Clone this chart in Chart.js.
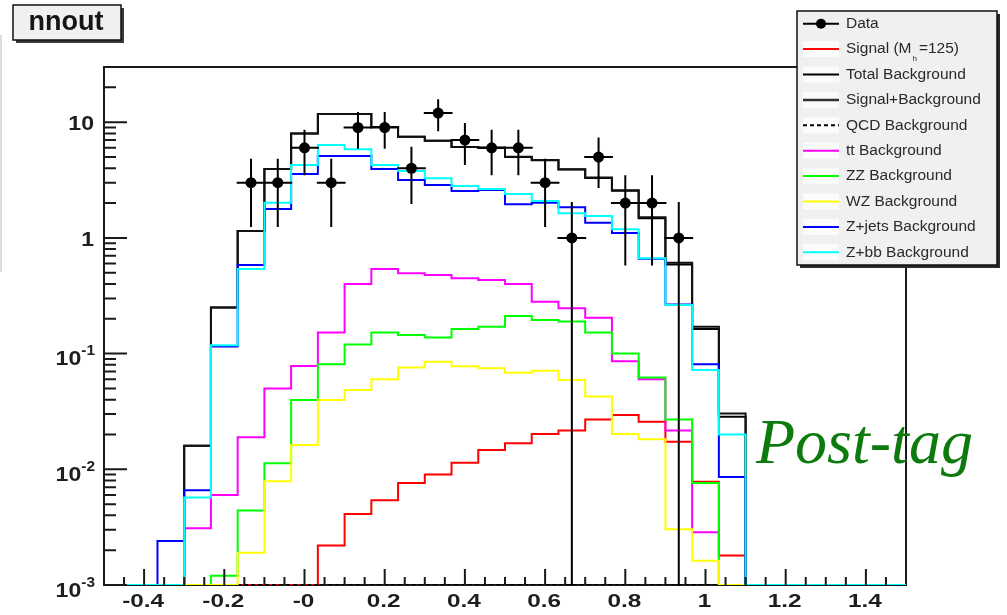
<!DOCTYPE html>
<html>
<head>
<meta charset="utf-8">
<title>nnout</title>
<script src="https://cdn.jsdelivr.net/npm/chart.js@4.4.1/dist/chart.umd.min.js"></script>
<style>
  html, body { margin: 0; padding: 0; background: #ffffff; }
  #wrap { width: 1007px; height: 615px; position: relative; }
</style>
</head>
<body>
<div id="wrap"><canvas id="nnoutChart" width="1007" height="615"></canvas></div>
<script>
// histogram binning: 30 bins on [-0.5, 1.5]
const nBins = 30;
const xLow = -0.5;
const xHigh = 1.5;
const yMin = 0.001;
const yMax = 30;

// per-bin contents, bin 0 .. 29
const signalH125 = [0, 0, 0, 0, 0, 0, 0, 0, 0.0022, 0.0041, 0.0054, 0.0076, 0.009, 0.0114, 0.0147, 0.0168, 0.0202, 0.0216, 0.027, 0.0294, 0.0258, 0.0173, 0.0078, 0.0018, 0, 0, 0, 0, 0, 0];
const totalBkg = [0, 0, 0, 0.016, 0.25, 1.15, 3.95, 8.0, 11.8, 11.8, 9.1, 7.5, 6.9, 6.1, 6.0, 5.0, 4.7, 3.9, 3.3, 2.55, 1.48, 0.59, 0.163, 0.0285, 0, 0, 0, 0, 0, 0];
const sigPlusBkg = [0, 0, 0, 0.016, 0.25, 1.15, 3.95, 8.0, 11.8, 11.8, 9.1, 7.5, 6.91, 6.11, 6.01, 5.02, 4.72, 3.92, 3.33, 2.58, 1.51, 0.61, 0.171, 0.0303, 0, 0, 0, 0, 0, 0];
const qcdBkg = [0, 0, 0, 0, 0, 0, 0, 0, 0, 0, 0, 0, 0, 0, 0, 0, 0, 0, 0, 0, 0, 0, 0, 0, 0, 0, 0, 0, 0, 0];
const ttBkg = [0, 0, 0, 0.0031, 0.006, 0.0189, 0.05, 0.078, 0.152, 0.4, 0.538, 0.494, 0.478, 0.448, 0.433, 0.4, 0.281, 0.246, 0.204, 0.086, 0.06, 0.0216, 0.00285, 0, 0, 0, 0, 0, 0, 0];
const zzBkg = [0, 0, 0, 0, 0.0012, 0.0044, 0.0113, 0.0397, 0.081, 0.12, 0.152, 0.145, 0.138, 0.163, 0.171, 0.211, 0.195, 0.189, 0.152, 0.1, 0.062, 0.027, 0.0076, 0, 0, 0, 0, 0, 0, 0];
const wzBkg = [0, 0, 0, 0, 0, 0.0019, 0.0079, 0.0162, 0.0397, 0.0484, 0.06, 0.076, 0.085, 0.0778, 0.0746, 0.0684, 0.0711, 0.0591, 0.0425, 0.0202, 0.0182, 0.00303, 0.00162, 0, 0, 0, 0, 0, 0, 0];
const zjetsBkg = [0, 0, 0.0024, 0.0066, 0.115, 0.583, 1.78, 3.57, 5.1, 5.1, 3.94, 3.16, 2.87, 2.54, 2.6, 1.95, 2.01, 1.84, 1.35, 1.1, 0.66, 0.266, 0.081, 0.0086, 0, 0, 0, 0, 0, 0];
const zbbBkg = [0, 0, 0, 0.0057, 0.118, 0.538, 2.01, 4.27, 6.35, 5.83, 4.27, 3.79, 3.27, 2.81, 2.65, 2.39, 2.08, 1.63, 1.55, 1.19, 0.667, 0.263, 0.072, 0.02, 0, 0, 0, 0, 0, 0];

// observed events and their errors (empty bins are not drawn)
const dataCounts = [0, 0, 0, 0, 0, 3, 3, 6, 3, 9, 9, 4, 12, 7, 6, 6, 3, 1, 5, 2, 2, 1, 0, 0, 0, 0, 0, 0, 0, 0];
const dataErrors = [0, 0, 0, 0, 0, 1.73, 1.73, 2.45, 1.73, 3, 3, 2, 3.46, 2.65, 2.45, 2.45, 1.73, 1, 2.24, 1.41, 1.41, 1, 0, 0, 0, 0, 0, 0, 0, 0];

// axis labels
const xTickValues = [-0.4, -0.2, 0, 0.2, 0.4, 0.6, 0.8, 1.0, 1.2, 1.4];
const xTickLabels = ['-0.4', '-0.2', '-0', '0.2', '0.4', '0.6', '0.8', '1', '1.2', '1.4'];
const yTickValues = [0.001, 0.01, 0.1, 1, 10];
const yTickBases = ['10', '10', '10', '1', '10'];
const yTickExps = ['-3', '-2', '-1', '', ''];

const binWidth = (xHigh - xLow) / nBins;
const FONT = '"Liberation Sans", Arial, sans-serif';

// step outline: one point per left bin edge, plus the right edge of the last bin
function histPoints(values) {
    const pts = [];
    for (let i = 0; i < values.length; i++) {
        pts.push({ x: xLow + i * binWidth, y: Math.max(values[i], yMin) });
    }
    pts.push({ x: xHigh, y: Math.max(values[values.length - 1], yMin) });
    return pts;
}

function dataPoints() {
    const pts = [];
    for (let i = 0; i < dataCounts.length; i++) {
        if (dataCounts[i] > 0) {
            pts.push({ x: xLow + (i + 0.5) * binWidth, y: dataCounts[i] });
        }
    }
    return pts;
}

function histDataset(label, values, color, order, dash) {
    return {
        label,
        data: histPoints(values),
        borderColor: color,
        borderWidth: 2,
        borderDash: dash || [],
        stepped: 'before',   // horizontal across the bin, then vertical at the next edge
        pointRadius: 0,
        fill: false,
        order
    };
}

// text stretched horizontally around its anchor
function wideText(ctx, text, x, y, sx) {
    ctx.save();
    ctx.translate(x, y);
    ctx.scale(sx, 1);
    ctx.fillText(text, 0, 0);
    ctx.restore();
}

// ROOT-like frame, ticks, labels, legend and captions
const decorPlugin = {
    id: 'decor',
    beforeDatasetsDraw(chart) {
        const { ctx, chartArea: a } = chart;
        ctx.save();
        ctx.strokeStyle = '#1a1a1a';
        ctx.lineWidth = 2;
        ctx.beginPath();
        ctx.moveTo(a.left, a.top);
        ctx.lineTo(a.right, a.top);
        ctx.lineTo(a.right, a.bottom);
        ctx.lineTo(a.left, a.bottom);
        ctx.closePath();
        ctx.stroke();
        ctx.restore();
    },
    afterDatasetsDraw(chart) {
        const { ctx, chartArea: a, scales } = chart;
        const xs = scales.x;
        const ys = scales.y;
        ctx.save();

        // data error bars
        ctx.strokeStyle = '#000';
        ctx.lineWidth = 2;
        ctx.lineCap = 'square';
        for (let i = 0; i < dataCounts.length; i++) {
            const n = dataCounts[i];
            if (n <= 0) continue;
            const xc = xs.getPixelForValue(xLow + (i + 0.5) * binWidth);
            const yc = ys.getPixelForValue(n);
            const yHi = ys.getPixelForValue(n + dataErrors[i]);
            const yLo = ys.getPixelForValue(Math.max(n - dataErrors[i], yMin));
            ctx.beginPath();
            ctx.moveTo(xs.getPixelForValue(xLow + i * binWidth), yc);
            ctx.lineTo(xs.getPixelForValue(xLow + (i + 1) * binWidth), yc);
            ctx.moveTo(xc, yHi);
            ctx.lineTo(xc, yLo);
            ctx.stroke();
        }

        // ticks pointing into the frame
        ctx.lineCap = 'butt';
        ctx.strokeStyle = '#1a1a1a';
        ctx.lineWidth = 2;
        ctx.beginPath();
        for (let k = -10; k <= 30; k++) {
            const v = Math.round(k * 5) / 100;
            if (v <= xLow || v >= xHigh) continue;
            const px = xs.getPixelForValue(v);
            const major = Math.abs(Math.round(v * 5) - v * 5) < 1e-6;
            ctx.moveTo(px, a.bottom);
            ctx.lineTo(px, a.bottom - (major ? 16 : 8));
        }
        for (let e = -3; e <= 1; e++) {
            for (let m = 1; m <= 9; m++) {
                const v = m * Math.pow(10, e);
                if (v <= yMin * 0.999 || v > yMax) continue;
                const py = ys.getPixelForValue(v);
                ctx.moveTo(a.left, py);
                ctx.lineTo(a.left + (m === 1 ? 23 : 12), py);
            }
        }
        ctx.stroke();

        // x tick labels
        ctx.fillStyle = '#1e1e1e';
        ctx.textAlign = 'center';
        ctx.textBaseline = 'middle';
        ctx.font = 'bold 19px ' + FONT;
        for (let i = 0; i < xTickValues.length; i++) {
            wideText(ctx, xTickLabels[i], xs.getPixelForValue(xTickValues[i]) - 1, 602, 1.28);
        }

        // y tick labels with exponents
        ctx.textAlign = 'right';
        for (let i = 0; i < yTickValues.length; i++) {
            const py = ys.getPixelForValue(yTickValues[i]);
            if (yTickExps[i]) {
                ctx.font = 'bold 14px ' + FONT;
                const ew = ctx.measureText(yTickExps[i]).width * 1.1;
                wideText(ctx, yTickExps[i], 95, py - 2, 1.1);
                ctx.font = 'bold 21px ' + FONT;
                wideText(ctx, yTickBases[i], 95 - ew, py + 6, 1.1);
            } else {
                ctx.font = 'bold 21px ' + FONT;
                wideText(ctx, yTickBases[i], 94, py + 2, 1.1);
            }
        }
        ctx.restore();
    },
    afterDraw(chart) {
        const { ctx } = chart;
        ctx.save();

        // faint panel edge on the far left
        ctx.strokeStyle = '#dcdcdc';
        ctx.lineWidth = 2;
        ctx.beginPath();
        ctx.moveTo(1, 35);
        ctx.lineTo(1, 272);
        ctx.stroke();

        // title box
        ctx.fillStyle = '#3a3a3a';
        ctx.fillRect(16, 8, 108, 35);
        ctx.fillStyle = '#f0f0f0';
        ctx.fillRect(13, 5, 108, 35);
        ctx.strokeStyle = '#111';
        ctx.lineWidth = 1.5;
        ctx.strokeRect(13, 5, 108, 35);
        ctx.fillStyle = '#151515';
        ctx.font = 'bold 27px ' + FONT;
        ctx.textAlign = 'center';
        ctx.textBaseline = 'middle';
        ctx.fillText('nnout', 66, 23);

        // legend box
        const lx = 797, ly = 11, lw = 200, lh = 254;
        ctx.fillStyle = '#2a2a2a';
        ctx.fillRect(lx + 3, ly + 3, lw, lh);
        ctx.fillStyle = '#f0f0f0';
        ctx.fillRect(lx, ly, lw, lh);
        ctx.strokeStyle = '#111';
        ctx.lineWidth = 1.5;
        ctx.strokeRect(lx, ly, lw, lh);

        const rowH = lh / legendEntries.length;
        ctx.textAlign = 'left';
        ctx.textBaseline = 'middle';
        legendEntries.forEach((e, i) => {
            const cy = ly + rowH * (i + 0.5);
            if (i > 0) {
                ctx.fillStyle = '#fbfbfb';
                ctx.fillRect(803, cy - 8, 36, 16);
            }
            ctx.strokeStyle = e.color;
            ctx.lineWidth = e.width || 2;
            ctx.setLineDash(e.dash || []);
            ctx.beginPath();
            ctx.moveTo(803, cy);
            ctx.lineTo(839, cy);
            ctx.stroke();
            ctx.setLineDash([]);
            if (e.marker) {
                ctx.fillStyle = '#000';
                ctx.beginPath();
                ctx.arc(821, cy, 5, 0, Math.PI * 2);
                ctx.fill();
            }
            ctx.fillStyle = '#2a2a2a';
            ctx.font = '15.5px ' + FONT;
            if (e.sub) {
                let x = 846;
                ctx.fillText(e.label, x, cy);
                x += ctx.measureText(e.label).width;
                ctx.font = '8px ' + FONT;
                ctx.fillText(e.sub, x + 1, cy + 10);
                x += ctx.measureText(e.sub).width + 3;
                ctx.font = '15.5px ' + FONT;
                ctx.fillText(e.rest, x, cy);
            } else {
                ctx.fillText(e.label, 846, cy);
            }
        });

        // selection caption
        ctx.fillStyle = '#0c7a0c';
        ctx.font = 'italic 64px "Liberation Serif", "Times New Roman", serif';
        ctx.textAlign = 'left';
        ctx.textBaseline = 'alphabetic';
        ctx.fillText('Post-tag', 756, 463);
        ctx.restore();
    }
};

const legendEntries = [
    { label: 'Data', color: '#000', marker: true },
    { label: 'Signal (M', sub: 'h', rest: '=125)', color: '#ff0000' },
    { label: 'Total Background', color: '#000' },
    { label: 'Signal+Background', color: '#333', width: 2.5 },
    { label: 'QCD Background', color: '#000', dash: [4, 3] },
    { label: 'tt Background', color: '#ff00ff' },
    { label: 'ZZ Background', color: '#00ff00' },
    { label: 'WZ Background', color: '#ffff00' },
    { label: 'Z+jets Background', color: '#0000ff' },
    { label: 'Z+bb Background', color: '#00ffff' }
];

// lower order is painted later (on top)
const datasets = [
    {
        label: 'Data',
        data: dataPoints(),
        showLine: false,
        pointRadius: 5.5,
        pointBackgroundColor: '#000',
        pointBorderColor: '#000',
        pointBorderWidth: 0,
        order: 0
    },
    histDataset('Z+bb Background', zbbBkg, '#00ffff', 1),
    histDataset('Z+jets Background', zjetsBkg, '#0000ff', 2),
    histDataset('WZ Background', wzBkg, '#ffff00', 3),
    histDataset('ZZ Background', zzBkg, '#00ff00', 4),
    histDataset('tt Background', ttBkg, '#ff00ff', 5),
    histDataset('QCD Background', qcdBkg, '#000', 6, [4, 3]),
    histDataset('Signal+Background', sigPlusBkg, '#111', 7),
    histDataset('Total Background', totalBkg, '#000', 8),
    histDataset('Signal (Mh=125)', signalH125, '#ff0000', 9)
];

const ctx = document.getElementById('nnoutChart').getContext('2d');
new Chart(ctx, {
    type: 'line',
    data: { datasets },
    options: {
        responsive: false,
        animation: false,
        devicePixelRatio: 1,
        layout: { padding: { top: 67, right: 101, left: 0, bottom: 0 } },
        plugins: {
            legend: { display: false },
            tooltip: { enabled: false }
        },
        scales: {
            x: {
                type: 'linear',
                min: xLow,
                max: xHigh,
                grid: { display: false, drawTicks: false },
                border: { display: false },
                afterBuildTicks: (axis) => {
                    axis.ticks = xTickValues.map((v) => ({ value: v }));
                },
                afterFit: (axis) => { axis.height = 30; },
                ticks: { display: false }
            },
            y: {
                type: 'logarithmic',
                min: yMin,
                max: yMax,
                grid: { display: false, drawTicks: false },
                border: { display: false },
                ticks: { display: false },
                afterFit: (axis) => { axis.width = 104; }
            }
        }
    },
    plugins: [decorPlugin]
});
</script>
</body>
</html>
